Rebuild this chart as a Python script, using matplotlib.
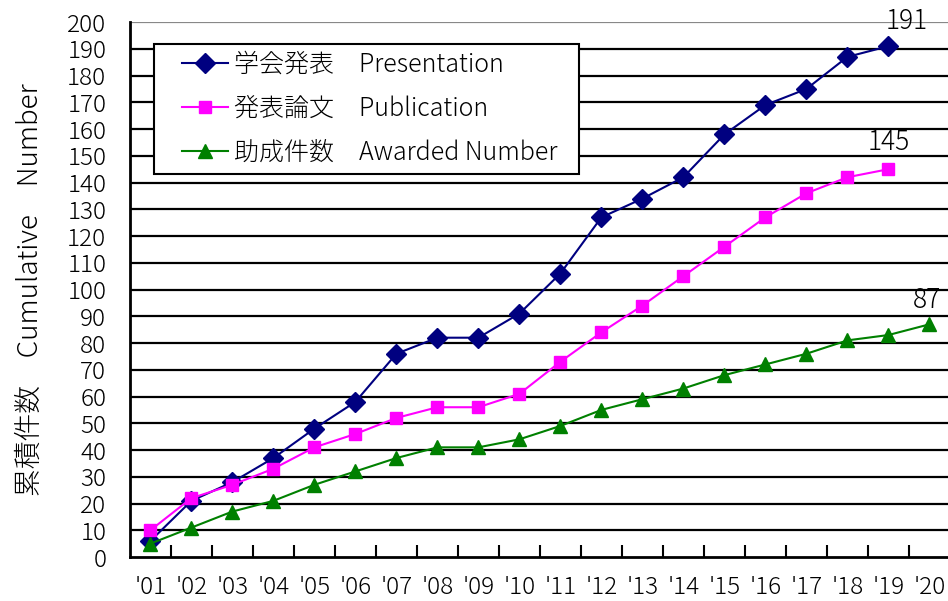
import matplotlib
matplotlib.use("Agg")
import matplotlib.pyplot as plt
from matplotlib.patches import Rectangle
import numpy as np

plt.rcParams['font.family'] = ['Noto Sans CJK JP', 'DejaVu Sans']

years = ["'01", "'02", "'03", "'04", "'05", "'06", "'07", "'08", "'09", "'10",
         "'11", "'12", "'13", "'14", "'15", "'16", "'17", "'18", "'19", "'20"]

# 累積件数
presentation = [6, 21, 28, 37, 48, 58, 76, 82, 82, 91,
                106, 127, 134, 142, 158, 169, 175, 187, 191]
publication = [10, 22, 27, 33, 41, 46, 52, 56, 56, 61,
               73, 84, 94, 105, 116, 127, 136, 142, 145]
awarded = [5, 11, 17, 21, 27, 32, 37, 41, 41, 44,
           49, 55, 59, 63, 68, 72, 76, 81, 83, 87]

labels = ["学会発表　Presentation", "発表論文　Publication", "助成件数　Awarded Number"]

fig = plt.figure(figsize=(9.48, 6.01), dpi=100)
ax = fig.add_axes([0.137, 0.0732, 0.865, 0.890])

x_all = np.arange(len(years))

# 横の目盛線
for v in range(10, 200, 10):
    ax.axhline(v, color='black', lw=1.6, zorder=1)
ax.axhline(200, color='#888888', lw=1.6, zorder=1)

ax.plot(x_all[:len(presentation)], presentation, color='#000080', lw=1.5,
        marker='D', markersize=10, label=labels[0], zorder=3)
ax.plot(x_all[:len(publication)], publication, color='#ff00ff', lw=1.5,
        marker='s', markersize=8, label=labels[1], zorder=3)
ax.plot(x_all[:len(awarded)], awarded, color='#008000', lw=1.5,
        marker='^', markersize=10.5, label=labels[2], zorder=3)

# 最終値の表示
ax.text(len(presentation) - 1 + 0.45, presentation[-1] + 4, str(presentation[-1]),
        ha='center', va='bottom', fontsize=19, fontweight='light')
ax.text(len(publication) - 1, publication[-1] + 5, str(publication[-1]),
        ha='center', va='bottom', fontsize=19, fontweight='light')
ax.text(len(awarded) - 1 - 0.05, awarded[-1] + 4, str(awarded[-1]),
        ha='center', va='bottom', fontsize=19, fontweight='light')

ax.set_xlim(-0.5, len(years) - 0.5)
ax.set_ylim(0, 200)
ax.set_yticks(range(0, 201, 10))
ax.tick_params(axis='y', labelsize=17.5, length=0, pad=17)

ax.set_xticks(x_all)
ax.set_xticklabels(years)
ax.set_xticks(np.arange(0.5, len(years) - 0.5, 1), minor=True)
ax.tick_params(axis='x', which='major', length=0, labelsize=17.5, pad=13)
ax.tick_params(axis='x', which='minor', direction='in', length=9, width=1.5)
for lab in ax.get_xticklabels() + ax.get_yticklabels():
    lab.set_fontweight('light')

for side in ['top', 'right']:
    ax.spines[side].set_visible(False)
ax.spines['left'].set_linewidth(2)
ax.spines['bottom'].set_linewidth(2)

ax.set_ylabel("累積件数　Cumulative　Number", fontsize=20, labelpad=17,
              fontweight='light')

# 凡例の枠
ax.add_patch(Rectangle((0.0293, 0.716), 0.518, 0.243, transform=ax.transAxes,
                       facecolor='white', edgecolor='black', lw=1.5, zorder=4))
leg = ax.legend(loc='upper left', bbox_to_anchor=(0.0634, 0.945), fontsize=18,
                frameon=False, handlelength=1.85, handletextpad=0.25,
                borderpad=0, borderaxespad=0, labelspacing=0.7)
leg.set_zorder(5)
for t in leg.get_texts():
    t.set_fontweight('light')

fig.savefig("out.png", dpi=100)
